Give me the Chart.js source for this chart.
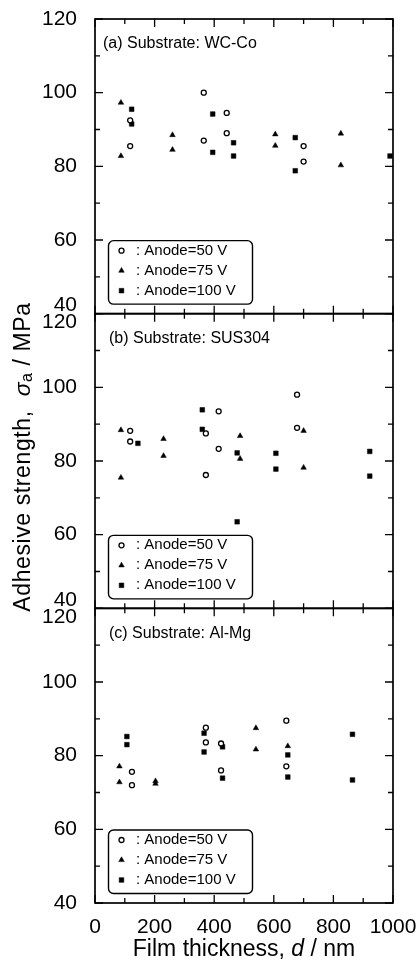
<!DOCTYPE html>
<html>
<head>
<meta charset="utf-8">
<script src="https://cdn.jsdelivr.net/npm/chart.js@4.4.1/dist/chart.umd.min.js"></script>
<style>
  html, body { margin: 0; padding: 0; background: #fff; }
</style>
</head>
<body>
<canvas id="chart" width="420" height="969"></canvas>
<script>
// three panels, one per substrate; x = film thickness d (nm), y = adhesive strength (MPa)
const panelNames = ["(a) Substrate: WC-Co", "(b) Substrate: SUS304", "(c) Substrate: Al-Mg"];
const seriesNames = [": Anode=50 V", ": Anode=75 V", ": Anode=100 V"];
const xTicks = [0, 200, 400, 600, 800, 1000];
const yTicks = [40, 60, 80, 100, 120];

// (a) WC-Co
const a50x = [118, 118, 365, 365, 442, 442, 700, 700];
const a50y = [92.5, 85.5, 100, 87, 94.5, 89, 85.5, 81.3];
const a75x = [87, 87, 260, 260, 605, 605, 825, 825];
const a75y = [97.3, 82.8, 88.5, 84.5, 88.7, 85.6, 88.9, 80.3];
const a100x = [123, 123, 395, 395, 465, 465, 672, 672, 990];
const a100y = [95.5, 91.5, 94.2, 83.8, 86.4, 82.8, 87.8, 78.8, 82.8];

// (b) SUS304
const b50x = [118, 118, 372, 372, 415, 415, 678, 678];
const b50y = [88.2, 85.3, 87.5, 76.2, 93.5, 83.3, 98, 89];
const b75x = [87, 87, 230, 230, 487, 487, 700, 700];
const b75y = [88.4, 75.5, 86, 81.4, 86.8, 80.6, 88.2, 78.2];
const b100x = [144, 360, 360, 477, 477, 607, 607, 922, 922];
const b100y = [84.8, 93.9, 88.6, 82.2, 63.5, 82.1, 77.8, 82.6, 75.9];

// (c) Al-Mg
const c50x = [124, 124, 372, 372, 423, 423, 642, 642];
const c50y = [75.6, 72, 87.6, 83.6, 83.3, 76, 89.5, 77.1];
const c75x = [82, 82, 203, 203, 540, 540, 647];
const c75y = [77.1, 72.8, 73.1, 72.4, 87.5, 81.7, 82.6];
const c100x = [107, 107, 366, 366, 428, 428, 647, 647, 864, 864];
const c100y = [85.2, 83, 86.1, 81, 82.4, 73.9, 80.2, 74.2, 85.8, 73.4];

const panelData = [
  [[a50x, a50y], [a75x, a75y], [a100x, a100y]],
  [[b50x, b50y], [b75x, b75y], [b100x, b100y]],
  [[c50x, c50y], [c75x, c75y], [c100x, c100y]],
];

const FONT = "'Liberation Sans', Arial, Helvetica, sans-serif";
const yIds = ["yA", "yB", "yC"];

// marker style per anode voltage
const markers = [
  { pointStyle: "circle", radius: 2.5, backgroundColor: "#fff", borderColor: "#000", borderWidth: 1.3 },
  { pointStyle: "triangle", radius: 3.2, backgroundColor: "#000", borderColor: "#000", borderWidth: 0.5 },
  { pointStyle: "rect", radius: 3.3, backgroundColor: "#000", borderColor: "#000", borderWidth: 0.5 },
];

const toPoints = (xs, ys) => xs.map((x, i) => ({ x: x, y: ys[i] }));

const datasets = [];
panelData.forEach((series, p) => {
  series.forEach(([xs, ys], s) => {
    const m = markers[s];
    datasets.push({
      label: seriesNames[s],
      data: toPoints(xs, ys),
      xAxisID: "x",
      yAxisID: yIds[p],
      pointStyle: m.pointStyle,
      pointRadius: m.radius,
      pointBackgroundColor: m.backgroundColor,
      pointBorderColor: m.borderColor,
      pointBorderWidth: m.borderWidth,
      showLine: false,
      clip: false,
    });
  });
});

function yScale(p) {
  return {
    type: "linear",
    position: "left",
    stack: "panels",
    stackWeight: 1,
    min: yTicks[0],
    max: yTicks[yTicks.length - 1],
    grid: { display: false, drawTicks: false },
    border: { display: false },
    ticks: {
      stepSize: yTicks[1] - yTicks[0],
      color: "#000",
      padding: 18,
      font: { family: FONT, size: 21, lineHeight: 0.8 },
      // where two panels meet, push "40" up and "120" down like the print
      callback: function (v) {
        const s = String(v);
        if (p < 2 && v === yTicks[0]) return [s, ""];
        if (p > 0 && v === yTicks[yTicks.length - 1]) return ["", s];
        return s;
      },
    },
    afterFit: (scale) => {
      scale.width = 95;
      scale.paddingTop = 0;
      scale.paddingBottom = 0;
    },
  };
}

function roundRect(ctx, x, y, w, h, r) {
  ctx.beginPath();
  ctx.moveTo(x + r, y);
  ctx.lineTo(x + w - r, y);
  ctx.arcTo(x + w, y, x + w, y + r, r);
  ctx.lineTo(x + w, y + h - r);
  ctx.arcTo(x + w, y + h, x + w - r, y + h, r);
  ctx.lineTo(x + r, y + h);
  ctx.arcTo(x, y + h, x, y + h - r, r);
  ctx.lineTo(x, y + r);
  ctx.arcTo(x, y, x + r, y, r);
  ctx.closePath();
}

// draws text pieces one after another (for italic symbols and subscripts)
function drawParts(ctx, parts, startX, y) {
  let cx = startX;
  parts.forEach((q) => {
    ctx.font = q.f;
    ctx.fillText(q.t, cx, y + (q.dy || 0));
    cx += ctx.measureText(q.t).width;
  });
}
function partsWidth(ctx, parts) {
  let w = 0;
  parts.forEach((q) => { ctx.font = q.f; w += ctx.measureText(q.t).width; });
  return w;
}

// frames with inward ticks on all four sides
const framePlugin = {
  id: "frame",
  beforeDatasetsDraw(chart) {
    const ctx = chart.ctx;
    const xs = chart.scales.x;
    ctx.save();
    ctx.strokeStyle = "#000";
    yIds.forEach((id) => {
      const ys = chart.scales[id];
      const L = xs.left, R = xs.right, T = ys.top, B = ys.bottom;
      ctx.lineWidth = 1.3;
      ctx.beginPath();
      for (let v = yTicks[0]; v <= yTicks[yTicks.length - 1]; v += 10) {
        const py = ys.getPixelForValue(v);
        const len = v % 20 === 0 ? 8 : 5;
        ctx.moveTo(L, py); ctx.lineTo(L + len, py);
        ctx.moveTo(R, py); ctx.lineTo(R - len, py);
      }
      for (let v = xTicks[0]; v <= xTicks[xTicks.length - 1]; v += 100) {
        const px = xs.getPixelForValue(v);
        const len = v % 200 === 0 ? 8 : 5;
        ctx.moveTo(px, T); ctx.lineTo(px, T + len);
        ctx.moveTo(px, B); ctx.lineTo(px, B - len);
      }
      ctx.stroke();
      ctx.lineWidth = 1.7;
      ctx.strokeRect(L, T, R - L, B - T);
    });
    ctx.restore();
  },
  afterDatasetsDraw(chart) {
    const ctx = chart.ctx;
    const xs = chart.scales.x;
    const drawPoint = Chart.helpers && Chart.helpers.drawPoint;
    ctx.save();
    yIds.forEach((id, p) => {
      const ys = chart.scales[id];
      const L = xs.left, T = ys.top, B = ys.bottom;

      // panel label
      ctx.fillStyle = "#000";
      ctx.font = "16px " + FONT;
      ctx.textAlign = "left";
      ctx.textBaseline = "middle";
      ctx.fillText(panelNames[p], L + (p === 0 ? 8 : 14), T + 25);

      // legend box
      const bx = L + 13.5, bw = 144, bh = 63.5, by = B - 9.5 - bh;
      ctx.lineWidth = 1.4;
      ctx.strokeStyle = "#000";
      roundRect(ctx, bx, by, bw, bh, 5);
      ctx.fillStyle = "#fff";
      ctx.fill();
      ctx.stroke();
      seriesNames.forEach((name, s) => {
        const ry = by + 10 + s * 20;
        const m = markers[s];
        ctx.fillStyle = m.backgroundColor;
        ctx.strokeStyle = m.borderColor;
        ctx.lineWidth = m.borderWidth;
        if (drawPoint) {
          drawPoint(ctx, { pointStyle: m.pointStyle, radius: m.radius, borderWidth: m.borderWidth, rotation: 0 }, L + 26.5, ry);
        }
        ctx.fillStyle = "#000";
        ctx.font = "15px " + FONT;
        ctx.textBaseline = "middle";
        ctx.fillText(name, L + 41, ry);
      });
    });

    // axis titles
    ctx.fillStyle = "#000";
    ctx.textBaseline = "middle";
    ctx.textAlign = "left";
    const top = chart.scales[yIds[0]].top;
    const bottom = chart.scales[yIds[2]].bottom;

    const yParts = [
      { t: "Adhesive strength,  ", f: "23px " + FONT },
      { t: "\u03c3", f: "italic 23px " + FONT },
      { t: "a", f: "16px " + FONT, dy: 4 },
      { t: " / MPa", f: "23px " + FONT },
    ];
    ctx.save();
    ctx.translate(24, (top + bottom) / 2 - 4);
    ctx.rotate(-Math.PI / 2);
    if ("letterSpacing" in ctx) ctx.letterSpacing = "0.6px";
    drawParts(ctx, yParts, -partsWidth(ctx, yParts) / 2, 0);
    ctx.restore();

    const xParts = [
      { t: "Film thickness, ", f: "23px " + FONT },
      { t: "d", f: "italic 23px " + FONT },
      { t: " / nm", f: "23px " + FONT },
    ];
    drawParts(ctx, xParts, (xs.left + xs.right) / 2 - partsWidth(ctx, xParts) / 2, 950);
    ctx.restore();
  },
};

const scales = {
  x: {
    type: "linear",
    position: "bottom",
    min: xTicks[0],
    max: xTicks[xTicks.length - 1],
    grid: { display: false, drawTicks: false },
    border: { display: false },
    ticks: {
      stepSize: xTicks[1] - xTicks[0],
      color: "#000",
      padding: 12,
      maxRotation: 0,
      font: { family: FONT, size: 21 },
      callback: (v) => String(v),
    },
    afterFit: (scale) => {
      scale.height = 66;
      scale.paddingLeft = 0;
      scale.paddingRight = 0;
    },
  },
};
// stacked axes are laid out bottom-first, so register panel (c) first
yIds.slice().reverse().forEach((id) => { scales[id] = yScale(yIds.indexOf(id)); });

new Chart(document.getElementById("chart"), {
  type: "scatter",
  data: { datasets: datasets },
  options: {
    responsive: false,
    animation: false,
    devicePixelRatio: 1,
    events: [],
    layout: { padding: { left: 0, right: 27, top: 19, bottom: 0 } },
    plugins: { legend: { display: false }, tooltip: { enabled: false } },
    scales: scales,
  },
  plugins: [framePlugin],
});
</script>
</body>
</html>
